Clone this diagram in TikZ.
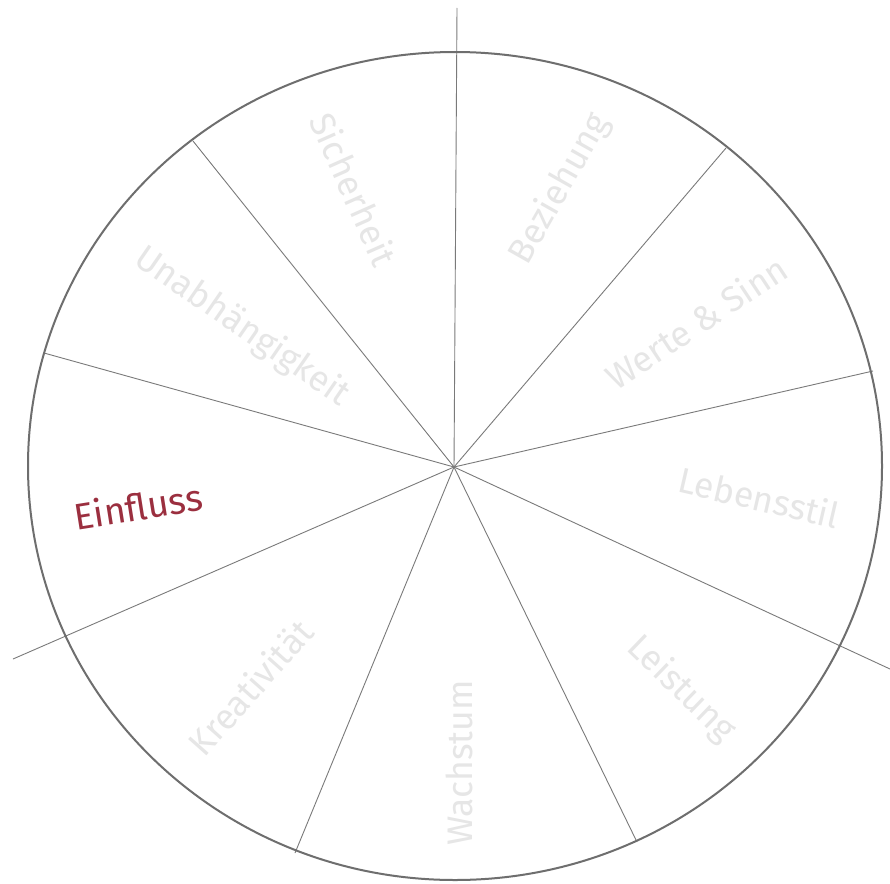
\documentclass[tikz,border=0pt]{standalone}
\usepackage{fontspec}
\setmainfont{Fira Sans}
\definecolor{rim}{HTML}{6E6E6E}
\definecolor{spoke}{HTML}{7A7A7A}
\definecolor{faint}{HTML}{E6E6E6}
\definecolor{accent}{HTML}{9B2F3F}
\tikzset{
  rimline/.style={draw=rim, line width=2pt},
  spokeline/.style={draw=spoke, line width=0.9pt},
  seglabel/.style={text=faint, font=\fontsize{35.5}{38}\selectfont, inner sep=0pt, anchor=center},
  activelabel/.style={text=accent, font=\fontsize{37}{40}\selectfont, inner sep=0pt, anchor=center}
}
\begin{document}
\begin{tikzpicture}[x=1pt,y=-1pt]
\useasboundingbox (0,0) rectangle (890,883);
\fill[white] (0,0) rectangle (890,883);
\coordinate (c) at (454,467);
\coordinate (p1) at (457,8);
\coordinate (p2) at (726,148);
\coordinate (p3) at (873,371);
\coordinate (p4) at (890,669);
\coordinate (p5) at (637,842);
\coordinate (p6) at (295,853);
\coordinate (p7) at (13,659);
\coordinate (p8) at (44,353);
\coordinate (p9) at (193,141);
\foreach \p in {p1,p2,p3,p4,p5,p6,p7,p8,p9} \draw[spokeline] (c) -- (\p);
\draw[rimline] (455,466) ellipse [x radius=427pt, y radius=414pt];
\node[seglabel, rotate=-66] (sicherheit) at (354,189) {Sicherheit};
\node[seglabel, rotate=60.5] (beziehung) at (560,189) {Beziehung};
\node[seglabel, rotate=33.5] (werte) at (696,322) {Werte \& Sinn};
\node[seglabel, rotate=-13] (lebensstil) at (759,497) {Lebensstil};
\node[seglabel, rotate=-44] (leistung) at (681,689) {Leistung};
\node[seglabel, rotate=90] (wachstum) at (459,763) {Wachstum};
\node[seglabel, rotate=48.3] (kreativ) at (250,687) {Kreativität};
\node[activelabel, rotate=9] (einfluss) at (138,506) {Einfluss};
\node[seglabel, rotate=-34.6] (unabh) at (242,327) {Unabhängigkeit};
\end{tikzpicture}
\end{document}
